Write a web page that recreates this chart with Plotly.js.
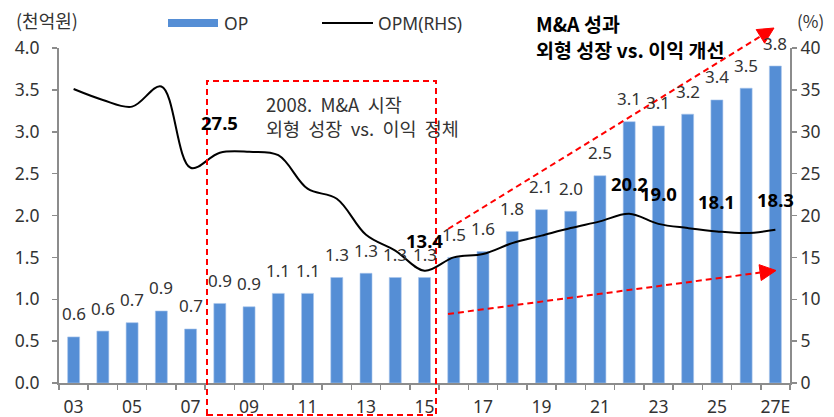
<!DOCTYPE html>
<html><head><meta charset="utf-8">
<script src="https://cdn.plot.ly/plotly-3.0.1.min.js"></script>
<style>html,body{margin:0;padding:0;background:#fff}#chart{width:834px;height:417px}</style>
</head><body><div id="chart"></div>
<script>
const years = [2003,2004,2005,2006,2007,2008,2009,2010,2011,2012,2013,2014,2015,2016,2017,2018,2019,2020,2021,2022,2023,2024,2025,2026,2027];
const xLabels = ['03','04','05','06','07','08','09','10','11','12','13','14','15','16','17','18','19','20','21','22','23','24','25','26','27E'];
const opValues = [0.55,0.62,0.72,0.86,0.645,0.95,0.91,1.07,1.07,1.26,1.31,1.26,1.26,1.50,1.57,1.81,2.07,2.05,2.475,3.12,3.07,3.21,3.38,3.52,3.785];
const opLabels = ['0.6','0.6','0.7','0.9','0.7','0.9','0.9','1.1','1.1','1.3','1.3','1.3','1.3','1.5','1.6','1.8','2.1','2.0','2.5','3.1','3.1','3.2','3.4','3.5','3.8'];
const opmValues = [35.1,33.8,33.0,35.4,25.7,27.5,27.6,27.2,23.2,22.0,17.7,15.8,13.4,15.0,15.4,16.7,17.6,18.5,19.3,20.2,19.0,18.5,18.1,17.9,18.3];
const opmLabelYears = [2008,2015,2022,2023,2025,2027];
const leftTicks = [0,0.5,1,1.5,2,2.5,3,3.5,4];
const rightTicks = [0,5,10,15,20,25,30,35,40];

const FONT = 'Noto Sans, Noto Sans CJK KR, sans-serif';
const KFONT = 'Noto Sans CJK KR, Noto Sans, sans-serif';
const GRAY = '#8c8c8c';
const TXT = '#333333';
const RED = '#ff0000';

// plot-area pixel frame -> paper coordinates (decorations only)
const L = 59, R = 790, T = 48, B = 383;
const px = x => (x - L) / (R - L);
const py = y => (B - y) / (B - T);

const labelYears = years.filter((y, i) => i % 2 === 0);
const labelText = xLabels.filter((y, i) => i % 2 === 0);

const traces = [
  {type: 'bar', x: years, y: opValues, name: 'OP', width: 0.41,
   marker: {color: '#558ed5', line: {color: '#a9c6ec', width: 0.6}}, hoverinfo: 'skip'},
  {type: 'scatter', mode: 'lines', x: years, y: opmValues, name: 'OPM(RHS)', yaxis: 'y2',
   line: {color: '#000000', width: 2, shape: 'spline', smoothing: 1}, hoverinfo: 'skip'}
];

const annotations = [];
years.forEach((yr, i) => {
  annotations.push({x: yr, y: opValues[i], xref: 'x', yref: 'y', text: opLabels[i],
    showarrow: false, yanchor: 'middle', yshift: 23,
    font: {family: FONT, size: 17, color: TXT}});
});
opmLabelYears.forEach(yr => {
  const i = years.indexOf(yr);
  annotations.push({x: yr, y: opmValues[i], xref: 'x', yref: 'y2', text: opmValues[i].toFixed(1),
    showarrow: false, yanchor: 'middle', yshift: 30,
    font: {family: FONT, size: 18.5, color: '#000', weight: 'bold'}});
});
function note(x, y, text, opts) {
  annotations.push(Object.assign({xref: 'paper', yref: 'paper', x: px(x), y: py(y), text: text,
    showarrow: false, xanchor: 'left', yanchor: 'middle',
    font: {family: KFONT, size: 17, color: TXT}}, opts || {}));
}
note(14, 20, '(천억원)', {font: {family: KFONT, size: 18, color: TXT}});
note(795, 20, '(%)', {font: {family: KFONT, size: 17, color: TXT}});
note(222, 23, 'OP', {font: {family: FONT, size: 17.5, color: TXT}});
note(376, 23, 'OPM(RHS)', {font: {family: FONT, size: 17.5, color: TXT}});
note(264, 104, '2008.  M&A  시작', {font: {family: KFONT, size: 18.5, color: TXT}});
note(264, 128, '외형  성장  vs.  이익  정체', {font: {family: KFONT, size: 18.5, color: TXT}});
note(534, 24, 'M&A 성과', {font: {family: KFONT, size: 19.5, color: '#000', weight: 'bold'}});
note(534, 49, '외형 성장 vs. 이익 개선', {font: {family: KFONT, size: 19.5, color: '#000', weight: 'bold'}});

const DASH = '6px,4px';
const shapes = [
  {type: 'rect', xref: 'paper', yref: 'paper', x0: px(168), x1: px(218), y0: py(27), y1: py(19),
   fillcolor: '#558ed5', line: {width: 0}},
  {type: 'line', xref: 'paper', yref: 'paper', x0: px(322), x1: px(373), y0: py(23), y1: py(23),
   line: {color: '#000', width: 2}},
  {type: 'rect', xref: 'paper', yref: 'paper', x0: px(207), x1: px(436), y0: py(415), y1: py(81),
   line: {color: RED, width: 2, dash: DASH}, fillcolor: 'rgba(0,0,0,0)', layer: 'above'}
];
function arrow(x0, y0, x1, y1) {
  const dx = x1 - x0, dy = y1 - y0, len = Math.hypot(dx, dy);
  const ux = dx / len, uy = dy / len, nx = -uy, ny = ux;
  const hl = 16, hw = 8;
  const bx = x1 - ux * hl, by = y1 - uy * hl;
  shapes.push({type: 'line', xref: 'paper', yref: 'paper', x0: px(x0), y0: py(y0), x1: px(bx), y1: py(by),
    line: {color: RED, width: 2, dash: DASH}, layer: 'above'});
  const p = [[x1, y1], [bx + nx * hw, by + ny * hw], [bx - nx * hw, by - ny * hw]];
  shapes.push({type: 'path', xref: 'paper', yref: 'paper',
    path: 'M' + p.map(q => px(q[0]) + ',' + py(q[1])).join(' L') + ' Z',
    fillcolor: RED, line: {color: RED, width: 1}, layer: 'above'});
}
arrow(448, 229, 774, 28);
arrow(448, 314, 776, 270.5);

const layout = {
  width: 834, height: 417, autosize: false,
  margin: {l: 59, r: 44, t: 48, b: 34, pad: 0},
  paper_bgcolor: '#fff', plot_bgcolor: '#fff',
  showlegend: false, bargap: 0,
  font: {family: FONT, size: 17, color: TXT},
  xaxis: {range: [2002.5, 2027.5], tickmode: 'array', tickvals: labelYears, ticktext: labelText,
    ticks: '', showgrid: false, zeroline: false, showline: true, linecolor: GRAY, linewidth: 2,
    ticklabelstandoff: 7,
    tickfont: {family: FONT, size: 17.5, color: TXT},
    minor: {tick0: 2002.5, dtick: 1, ticks: 'outside', ticklen: 5, tickwidth: 1.5, tickcolor: GRAY, showgrid: false}},
  yaxis: {range: [0, 4], tickmode: 'array', tickvals: leftTicks, tickformat: '.1f',
    ticks: 'outside', ticklen: 5, tickwidth: 1.5, tickcolor: GRAY, showgrid: false, zeroline: false,
    ticklabelstandoff: 9,
    showline: true, linecolor: GRAY, linewidth: 2, tickfont: {family: FONT, size: 17.5, color: TXT}},
  yaxis2: {range: [0, 40], overlaying: 'y', side: 'right', tickmode: 'array', tickvals: rightTicks,
    ticks: 'outside', ticklen: 5, tickwidth: 1.5, tickcolor: GRAY, showgrid: false, zeroline: false,
    showline: true, linecolor: GRAY, linewidth: 2, tickfont: {family: FONT, size: 17.5, color: TXT}},
  annotations: annotations,
  shapes: shapes
};
Plotly.newPlot('chart', traces, layout, {staticPlot: true, displayModeBar: false});
</script>
</body></html>
